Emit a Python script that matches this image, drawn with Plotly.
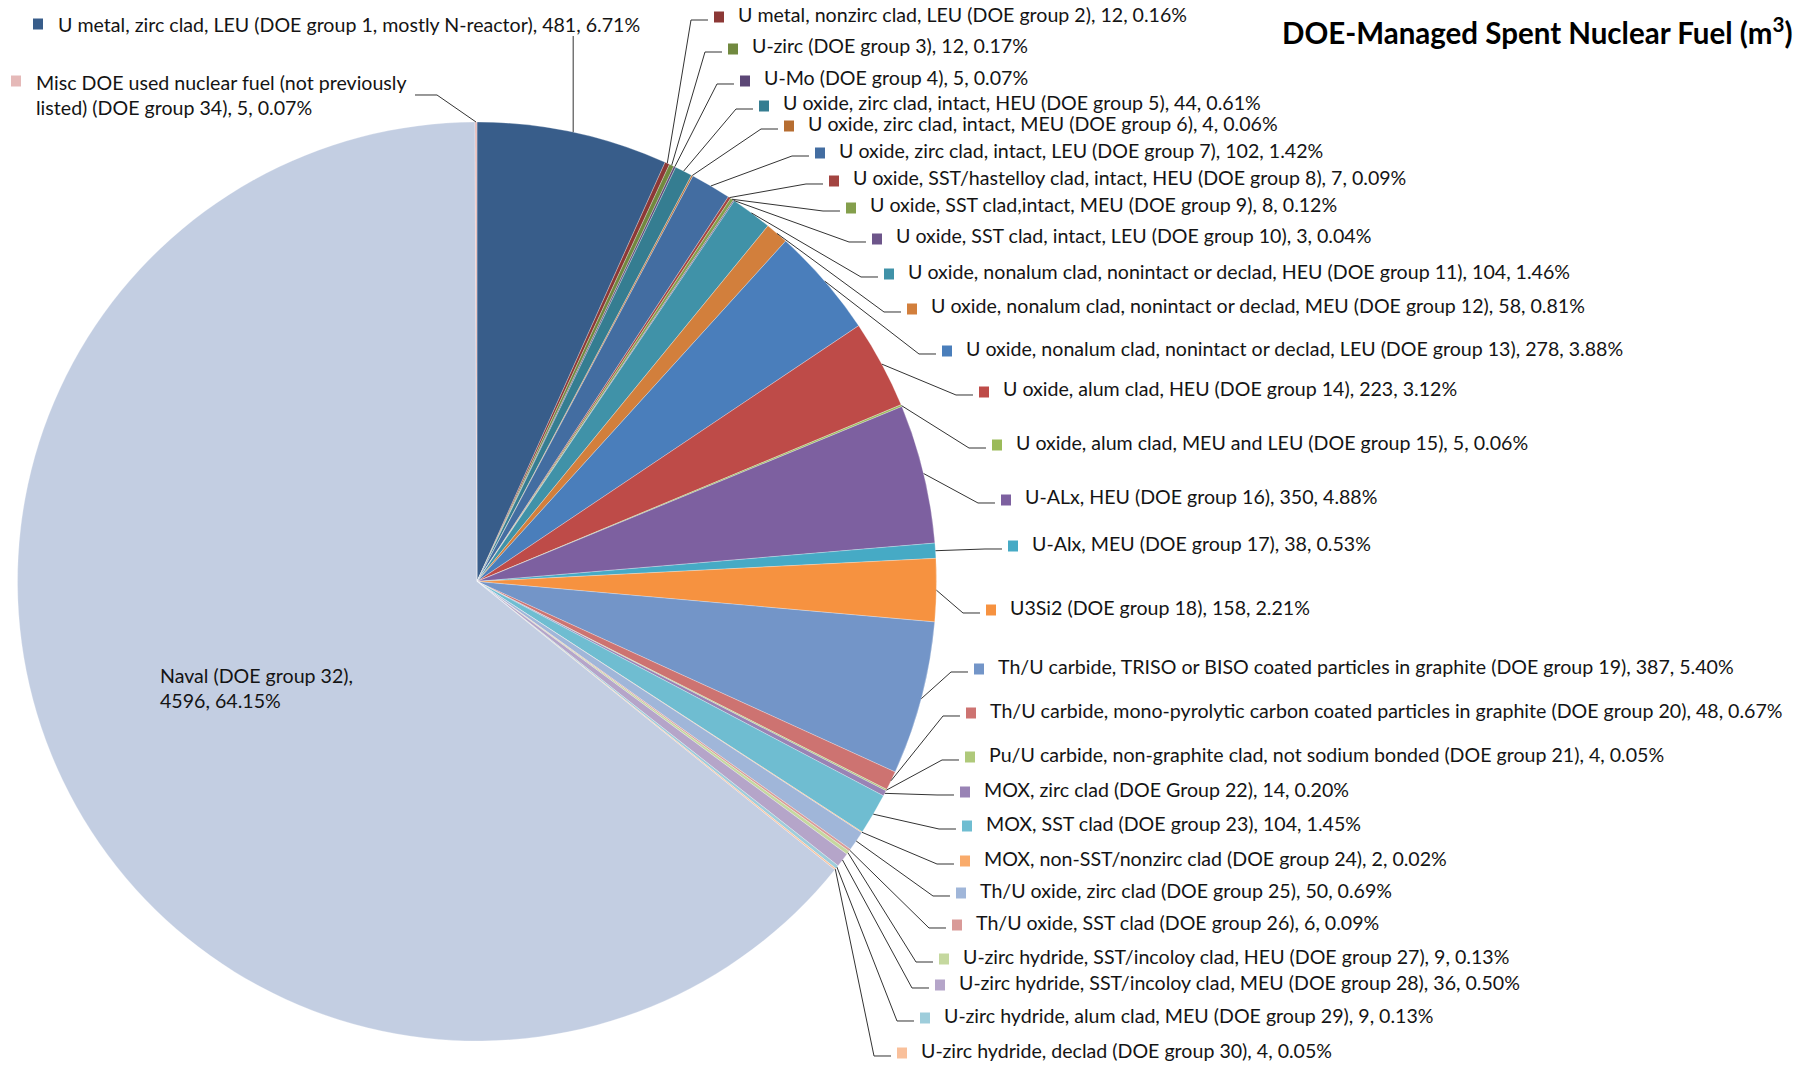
import math
import plotly.graph_objects as go

# ---- data -------------------------------------------------------------
names = [
    "U metal, zirc clad, LEU (DOE group 1, mostly N-reactor)",
    "U metal, nonzirc clad, LEU (DOE group 2)",
    "U-zirc (DOE group 3)",
    "U-Mo (DOE group 4)",
    "U oxide, zirc clad, intact, HEU (DOE group 5)",
    "U oxide, zirc clad, intact, MEU (DOE group 6)",
    "U oxide, zirc clad, intact, LEU (DOE group 7)",
    "U oxide, SST/hastelloy clad, intact, HEU (DOE group 8)",
    "U oxide, SST clad,intact, MEU (DOE group 9)",
    "U oxide, SST clad, intact, LEU (DOE group 10)",
    "U oxide, nonalum clad, nonintact or declad, HEU (DOE group 11)",
    "U oxide, nonalum clad, nonintact or declad, MEU (DOE group 12)",
    "U oxide, nonalum clad, nonintact or declad, LEU (DOE group 13)",
    "U oxide, alum clad, HEU (DOE group 14)",
    "U oxide, alum clad, MEU and LEU (DOE group 15)",
    "U-ALx, HEU (DOE group 16)",
    "U-Alx, MEU (DOE group 17)",
    "U3Si2 (DOE group 18)",
    "Th/U carbide, TRISO or BISO coated particles in graphite (DOE group 19)",
    "Th/U carbide, mono-pyrolytic carbon coated particles in graphite (DOE group 20)",
    "Pu/U carbide, non-graphite clad, not sodium bonded (DOE group 21)",
    "MOX, zirc clad (DOE Group 22)",
    "MOX, SST clad (DOE group 23)",
    "MOX, non-SST/nonzirc clad (DOE group 24)",
    "Th/U oxide, zirc clad (DOE group 25)",
    "Th/U oxide, SST clad (DOE group 26)",
    "U-zirc hydride, SST/incoloy clad, HEU (DOE group 27)",
    "U-zirc hydride, SST/incoloy clad, MEU (DOE group 28)",
    "U-zirc hydride, alum clad, MEU (DOE group 29)",
    "U-zirc hydride, declad (DOE group 30)",
    "Naval (DOE group 32)",
    "Misc DOE used nuclear fuel (not previously listed) (DOE group 34)",
]
volumes_m3 = [481, 12, 12, 5, 44, 4, 102, 7, 8, 3, 104, 58, 278, 223, 5, 350,
              38, 158, 387, 48, 4, 14, 104, 2, 50, 6, 9, 36, 9, 4, 4596, 5]
percent_labels = ["6.71%", "0.16%", "0.17%", "0.07%", "0.61%", "0.06%", "1.42%",
                  "0.09%", "0.12%", "0.04%", "1.46%", "0.81%", "3.88%", "3.12%",
                  "0.06%", "4.88%", "0.53%", "2.21%", "5.40%", "0.67%", "0.05%",
                  "0.20%", "1.45%", "0.02%", "0.69%", "0.09%", "0.13%", "0.50%",
                  "0.13%", "0.05%", "64.15%", "0.07%"]
title_text = "DOE-Managed Spent Nuclear Fuel (m<sup>3</sup>)"

# ---- style ------------------------------------------------------------
slice_colors = [
    "#385D8A", "#8C3836", "#71893F", "#5C4776", "#357D91", "#B66D31",
    "#436DA1", "#A34441", "#849F4C", "#6D558A", "#4092A8", "#D27F3C",
    "#4A7EBB", "#BE4B48", "#9BBB59", "#7D60A0", "#46AAC5", "#F69240",
    "#7395C8", "#CD7371", "#AFC97A", "#9983B5", "#6FBDD1", "#F9AB6B",
    "#A0B6D9", "#D99A98", "#C5D89F", "#B5A5C9", "#9ECDDB", "#F9C09B",
    "#C3CEE2", "#E5B9B8",
]
W, H = 1808, 1068
CX, CY, R = 477.0, 581.5, 459.5
FONT = "Lato, 'Open Sans', sans-serif"
FS = 19.6
LINE_C = "#333333"
TEXT_C = "#141414"

# label anchor (left edge of text, vertical middle) in pixels, by slice index
label_xy = {
    1: (736, 14), 2: (750, 46), 3: (762, 78), 4: (781, 103), 5: (806, 123),
    6: (837, 150), 7: (851, 178), 8: (868, 205), 9: (894, 236), 10: (906, 271),
    11: (929, 306), 12: (964, 348), 13: (1001, 389), 14: (1014, 442),
    15: (1023, 497), 16: (1030, 543), 17: (1008, 607), 18: (996, 666),
    19: (988, 710), 20: (987, 754), 21: (982, 789), 22: (984, 823),
    23: (982, 858), 24: (978, 890), 25: (974, 922), 26: (961, 956),
    27: (957, 982), 28: (942, 1015), 29: (919, 1050),
}


def px(x, y):
    return x / W, 1 - y / H


def edge_point(i):
    total = sum(volumes_m3)
    start = sum(volumes_m3[:i])
    frac = (start + volumes_m3[i] / 2) / total
    a = 2 * math.pi * frac
    return CX + R * math.sin(a), CY - R * math.cos(a)


fig = go.Figure()
fig.add_trace(go.Pie(
    labels=names, values=volumes_m3, sort=False, direction="clockwise",
    rotation=0, textinfo="none", hoverinfo="label+value+percent",
    marker=dict(colors=slice_colors, line=dict(color="rgba(255,255,255,0.45)", width=0.6)),
    domain=dict(x=[(CX - R) / W, (CX + R) / W],
                y=[(H - (CY + R)) / H, (H - (CY - R)) / H]),
    showlegend=False,
))

shapes = []
annotations = []


def add_path(points):
    d = ""
    for k, (x, y) in enumerate(points):
        xp, yp = px(x, y)
        d += ("M" if k == 0 else "L") + f"{xp:.5f},{yp:.5f} "
    shapes.append(dict(type="path", xref="paper", yref="paper", path=d,
                       line=dict(color=LINE_C, width=1)))


def add_key(i, x, y, w=10, h=11):
    x0, y0 = px(x - w / 2, y + h / 2)
    x1, y1 = px(x + w / 2, y - h / 2)
    shapes.append(dict(type="rect", xref="paper", yref="paper", x0=x0, y0=y0,
                       x1=x1, y1=y1, fillcolor=slice_colors[i], line=dict(width=0)))


def add_text(x, y, txt, **kw):
    xp, yp = px(x, y)
    annotations.append(dict(x=xp, y=yp, xref="paper", yref="paper", text=txt,
                            showarrow=False, xanchor="left", yanchor="middle",
                            align="left", font=dict(family=FONT, size=FS, color=TEXT_C), **kw))


def label(i):
    return f"{names[i]}, {volumes_m3[i]}, {percent_labels[i]}"


# right-hand labels with elbow leader lines
for i, (tx, ty) in label_xy.items():
    ex, ey = edge_point(i)
    add_path([(ex, ey), (tx - 45, ty + 6), (tx - 28, ty + 6)])
    add_key(i, tx - 17, ty + 3)
    add_text(tx, ty, label(i))

# group 1: label above the pie, vertical leader
ex, ey = edge_point(0)
add_path([(ex, ey), (ex, 36)])
add_key(0, 38, 24)
add_text(56, 24, label(0))

# group 34: two-line label at top left
ex, ey = edge_point(31)
add_path([(ex, ey), (437, 95), (415, 95)])
add_key(31, 16, 81)
add_text(34, 95, "Misc DOE used nuclear fuel (not previously<br>listed) (DOE group 34), "
         f"{volumes_m3[31]}, {percent_labels[31]}")

# naval: label inside its slice
add_text(158, 688, f"{names[30]},<br>{volumes_m3[30]}, {percent_labels[30]}")

# title
tx, ty = px(1795, 31)
annotations.append(dict(x=tx, y=ty, xref="paper", yref="paper", text=title_text,
                        showarrow=False, xanchor="right", yanchor="middle",
                        font=dict(family=FONT, size=29.5, color="#000000", weight="bold")))

fig.update_layout(
    width=W, height=H, margin=dict(l=0, r=0, t=0, b=0),
    paper_bgcolor="white", plot_bgcolor="white",
    shapes=shapes, annotations=annotations,
)
fig.write_html("out.html")
